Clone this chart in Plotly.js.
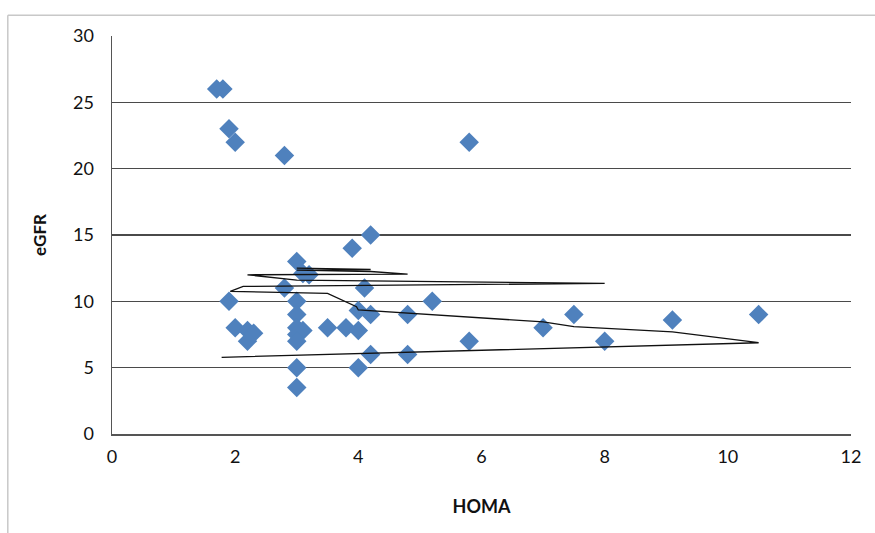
<!DOCTYPE html>
<html>
<head>
<meta charset="utf-8">
<script src="https://cdn.plot.ly/plotly-3.0.1.min.js"></script>
<style>html,body{margin:0;padding:0;background:#fff;}#chart{width:875px;height:533px;}</style>
</head>
<body>
<div id="chart"></div>
<script>
// Scatter data: HOMA vs eGFR
const homa = [1.7, 1.8, 1.9, 2.0, 2.8, 5.8, 3.9, 4.2, 3.0, 3.1, 3.2, 2.8, 4.1, 1.9, 3.0, 5.2,
  3.0, 4.0, 4.2, 4.8, 7.5, 10.5, 9.1, 2.0, 2.2, 2.3, 2.2, 3.0, 3.1, 3.0, 3.0, 3.5,
  3.8, 4.0, 7.0, 4.2, 4.8, 5.8, 8.0, 3.0, 4.0, 3.0];
const egfr = [26, 26, 23, 22, 21, 22, 14, 15, 13, 12.1, 12, 11, 11, 10, 10, 10,
  9, 9.3, 9, 9, 9, 9, 8.6, 8, 7.8, 7.6, 7, 8, 7.8, 7.5, 7, 8,
  8, 7.8, 8, 6, 6, 7, 7, 5, 5, 3.5];

// Trendline (moving average drawn in data order), vertices
const trendX = [3.0, 4.2, 3.0, 4.2, 4.8, 2.2, 3.0, 8.0, 2.13, 1.92, 3.5, 3.97, 4.0, 4.84, 7.0, 7.5, 9.1, 10.5, 1.78];
const trendY = [12.5, 12.4, 12.35, 12.25, 12.05, 12.0, 11.6, 11.35, 11.12, 10.75, 10.6, 9.6, 9.35, 9.1, 8.45, 8.1, 7.7, 6.88, 5.78];

const xTicks = [0, 2, 4, 6, 8, 10, 12];
const yTicks = [0, 5, 10, 15, 20, 25, 30];

const font = 'Lato, "Open Sans", sans-serif';

const traces = [
  {
    x: homa, y: egfr, type: 'scatter', mode: 'markers',
    marker: {symbol: 'diamond', size: 15, color: '#4F81BD', line: {width: 0}},
    hoverinfo: 'x+y', showlegend: false
  },
  {
    x: trendX, y: trendY, type: 'scatter', mode: 'lines',
    line: {color: '#111', width: 1.3},
    hoverinfo: 'skip', showlegend: false
  }
];

const layout = {
  width: 875, height: 533,
  margin: {l: 112, r: 24, t: 36, b: 99},
  paper_bgcolor: '#fff', plot_bgcolor: '#fff',
  font: {family: font, size: 18, color: '#111'},
  showlegend: false,
  xaxis: {
    range: [0, 12], tickvals: xTicks, ticktext: xTicks.map(String),
    showgrid: false, zeroline: false,
    showline: true, linecolor: '#555', linewidth: 1.5,
    ticks: '', ticklabelstandoff: 6,
    tickfont: {family: font, size: 18, color: '#111'},
    title: {text: '<b>HOMA</b>', font: {family: font, size: 18, color: '#111'}, standoff: 34}
  },
  yaxis: {
    range: [0, 30], tickvals: yTicks, ticktext: yTicks.map(String),
    showgrid: true, gridcolor: '#4a4a4a', gridwidth: 1.5,
    zeroline: false,
    showline: true, linecolor: '#555', linewidth: 1.5,
    ticks: '', ticklabelstandoff: 13,
    tickfont: {family: font, size: 18, color: '#111'},
    title: {text: '<b>eGFR</b>', font: {family: font, size: 17, color: '#111'}, standoff: 22}
  },
  shapes: [
    {type: 'line', xref: 'paper', yref: 'paper', x0: -0.141, x1: 1.1, y0: 1.052, y1: 1.052,
     line: {color: '#c8c8c8', width: 1.5}},
    {type: 'line', xref: 'paper', yref: 'paper', x0: -0.141, x1: -0.141, y0: 1.052, y1: -0.26,
     line: {color: '#c8c8c8', width: 1.5}}
  ]
};

Plotly.newPlot('chart', traces, layout, {displayModeBar: false, staticPlot: true});
</script>
</body>
</html>
